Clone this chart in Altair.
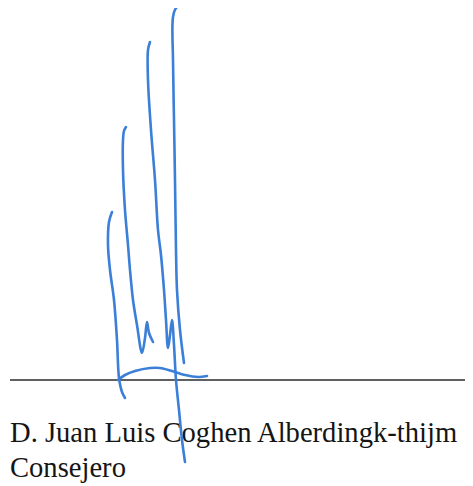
import altair as alt
import pandas as pd

# Signature strokes (pixel coordinates of the scanned page)
stroke_a_x = [112, 109, 108, 110, 114, 117, 119, 122, 125]
stroke_a_y = [212, 222, 245, 270, 300, 340, 378, 392, 398]

stroke_b_x = [126, 124, 123, 123, 125, 128, 130, 133, 137, 142, 145, 147, 149, 153]
stroke_b_y = [127, 131, 140, 170, 210, 245, 270, 300, 325, 353, 338, 322, 333, 342]

stroke_c_x = [150, 148, 148, 151, 155, 158, 161, 164, 166, 168, 170, 172, 174, 176, 179, 182, 185]
stroke_c_y = [42, 50, 80, 130, 180, 230, 255, 290, 320, 348, 335, 320, 345, 380, 410, 440, 462]

stroke_d_x = [180, 176, 173, 173, 174, 175, 176, 177, 180, 184]
stroke_d_y = [5, 8, 17, 60, 120, 180, 250, 290, 330, 363]

stroke_e_x = [118, 125, 135, 150, 160, 172, 185, 198, 207]
stroke_e_y = [380, 375, 371, 368, 368, 371, 375, 377, 376]

rule_x = [10, 465]
rule_y = [380, 380]

text_lines = ["D. Juan Luis Coghen Alberdingk-thijm", "Consejero"]
text_x = [10, 10]
text_y = [442, 477]

rows = []
for name, xs, ys in [("a", stroke_a_x, stroke_a_y), ("b", stroke_b_x, stroke_b_y),
                     ("c", stroke_c_x, stroke_c_y), ("d", stroke_d_x, stroke_d_y),
                     ("e", stroke_e_x, stroke_e_y)]:
    for i, (x, y) in enumerate(zip(xs, ys)):
        rows.append({"stroke": name, "i": i, "x": x, "y": y})
sig = pd.DataFrame(rows)
rule_df = pd.DataFrame({"x": rule_x, "y": rule_y, "i": [0, 1]})
txt = pd.DataFrame({"t": text_lines, "x": text_x, "y": text_y})

W, H = 457, 476
xs = alt.Scale(domain=[8, 8 + W], nice=False, zero=False)
ys = alt.Scale(domain=[8, 8 + H], nice=False, zero=False, reverse=True)

base_x = lambda: alt.X("x:Q", scale=xs, axis=None)
base_y = lambda: alt.Y("y:Q", scale=ys, axis=None)

rule = alt.Chart(rule_df).mark_line(color="#2b2b2b", strokeWidth=1.6, clip=False).encode(
    x=base_x(), y=base_y(), order="i:Q")

text = alt.Chart(txt).mark_text(align="left", baseline="alphabetic", font="Liberation Serif",
                                fontSize=28.6, color="#151515", clip=False).encode(
    x=base_x(), y=base_y(), text="t:N")

lines = alt.Chart(sig).mark_line(color="#3b7fd8", strokeWidth=2.6, interpolate="catmull-rom",
                                 strokeCap="round", strokeJoin="round", clip=False).encode(
    x=base_x(), y=base_y(), detail="stroke:N", order="i:Q")

chart = alt.layer(rule, text, lines).properties(
    width=W, height=H, padding=0, background="white",
    autosize=alt.AutoSizeParams(type="none")
).configure_view(stroke=None)

chart.save("out.html", embed_options={"renderer": "svg", "actions": False})
